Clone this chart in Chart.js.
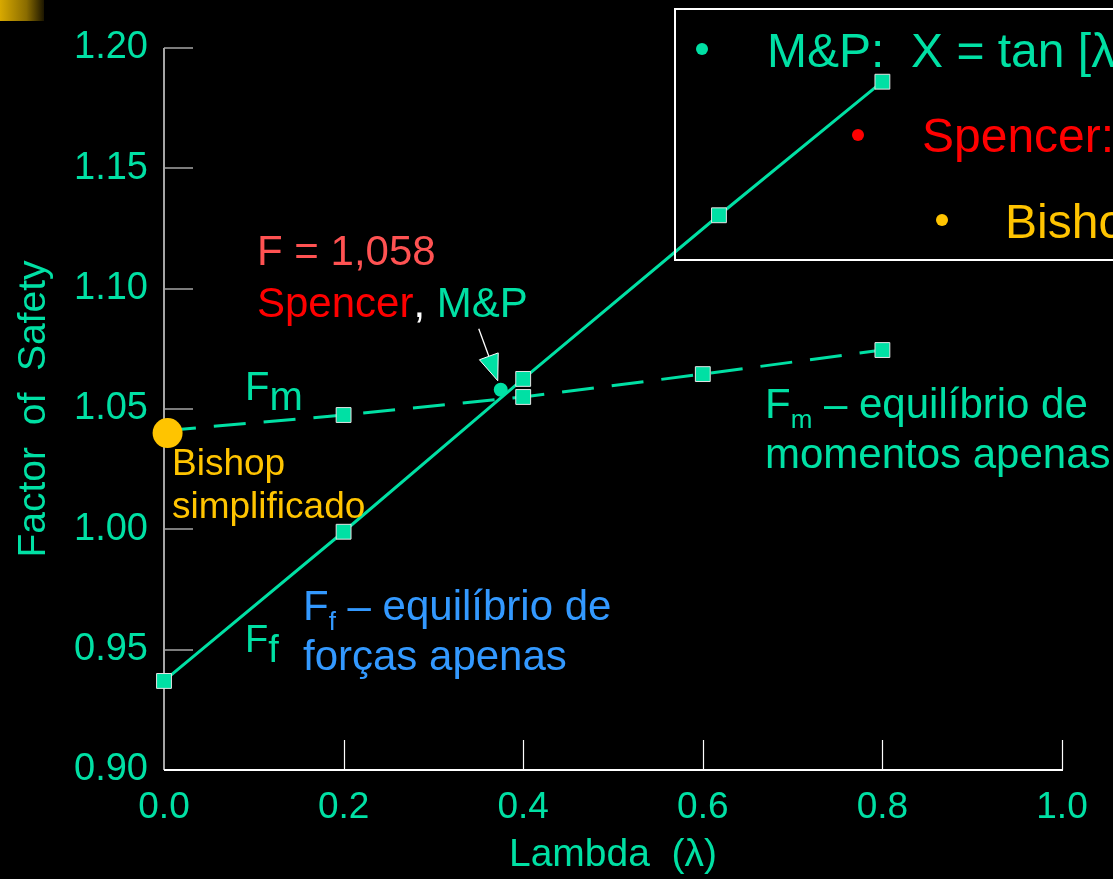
<!DOCTYPE html>
<html>
<head>
<meta charset="utf-8">
<script src="https://cdn.jsdelivr.net/npm/chart.js@4.4.1/dist/chart.umd.min.js"></script>
<style>
  html, body { margin: 0; padding: 0; background: #000; overflow: hidden; }
  canvas { display: block; }
</style>
</head>
<body>
<canvas id="fsChart" width="1113" height="879"></canvas>
<script>
// Factor of safety vs. lambda: force-only and moment-only equilibrium curves
const lambdaForce  = [0.0, 0.2, 0.4, 0.618, 0.8];
const forceFS      = [0.937, 0.999, 1.0625, 1.1305, 1.186];
const lambdaMoment = [0.0, 0.2, 0.4, 0.6, 0.8];
const momentFS     = [1.041, 1.0475, 1.055, 1.0645, 1.0745];
const bishopLambda = [0.004];
const bishopFS     = [1.040];
const spencerLambda = [0.375];
const spencerFS     = [1.058];
const xTicks = [0.0, 0.2, 0.4, 0.6, 0.8, 1.0];
const yTicks = [0.90, 0.95, 1.00, 1.05, 1.10, 1.15, 1.20];

const TEAL = '#00E0A4';
const RED = '#FF0000';
const SOFT_RED = '#FF5252';
const YELLOW = '#FFC400';
const BLUE = '#3399FF';
const FONT = '"Liberation Sans", Arial, Helvetica, sans-serif';

const pts = (xs, ys) => xs.map((v, i) => ({ x: v, y: ys[i] }));

// draw a row of text pieces, each with its own colour, size and vertical shift
function drawRuns(ctx, x, y, runs) {
  let cx = x;
  runs.forEach(r => {
    ctx.font = r.size + 'px ' + FONT;
    ctx.fillStyle = r.color;
    ctx.fillText(r.text, cx, y + (r.dy || 0));
    cx += ctx.measureText(r.text).width;
  });
}

const decor = {
  id: 'decor',
  beforeDraw(chart) {
    const { ctx } = chart;
    ctx.save();
    ctx.fillStyle = '#000';
    ctx.fillRect(0, 0, chart.width, chart.height);
    const g = ctx.createLinearGradient(0, 0, 44, 0);
    g.addColorStop(0, '#D8A900');
    g.addColorStop(0.6, '#8a6c00');
    g.addColorStop(1, '#1c1600');
    ctx.fillStyle = g;
    ctx.fillRect(0, 0, 44, 21);
    ctx.restore();
  },
  beforeDatasetsDraw(chart) {
    const { ctx, chartArea: a, scales: { x, y } } = chart;
    const seg = (x1, y1, x2, y2) => { ctx.beginPath(); ctx.moveTo(x1, y1); ctx.lineTo(x2, y2); ctx.stroke(); };
    ctx.save();
    // vertical axis with inward ticks
    ctx.strokeStyle = '#a6a6a6';
    ctx.lineWidth = 2;
    seg(a.left, a.top, a.left, a.bottom);
    ctx.lineWidth = 1.5;
    yTicks.filter(v => v > y.min).forEach(v => {
      const py = Math.round(y.getPixelForValue(v));
      seg(a.left, py, a.left + 29, py);
    });
    // horizontal axis with upward ticks
    ctx.strokeStyle = '#ffffff';
    ctx.lineWidth = 2;
    seg(a.left, a.bottom, a.right + 1, a.bottom);
    ctx.lineWidth = 1.2;
    xTicks.filter(v => v > x.min).forEach(v => {
      const px = Math.round(x.getPixelForValue(v)) + 0.5;
      seg(px, a.bottom, px, a.bottom - 30);
    });
    ctx.restore();
  },
  afterDraw(chart) {
    const { ctx, scales: { x, y } } = chart;
    ctx.save();
    ctx.textBaseline = 'alphabetic';
    ctx.textAlign = 'left';

    // legend box
    ctx.strokeStyle = '#ffffff';
    ctx.lineWidth = 2;
    ctx.strokeRect(675, 9, 460, 251);
    const dot = (cx, cy, c) => { ctx.fillStyle = c; ctx.beginPath(); ctx.arc(cx, cy, 6, 0, Math.PI * 2); ctx.fill(); };
    dot(702, 49, TEAL);
    dot(858, 135, RED);
    dot(942, 220, YELLOW);
    drawRuns(ctx, 767, 67, [{ text: 'M&P:  X = tan [λ]', color: TEAL, size: 48 }]);
    drawRuns(ctx, 922, 152, [{ text: 'Spencer:', color: RED, size: 48 }]);
    drawRuns(ctx, 1005, 238, [{ text: 'Bishop', color: YELLOW, size: 48 }]);

    // intersection callout
    drawRuns(ctx, 257, 265, [{ text: 'F = 1,058', color: SOFT_RED, size: 42 }]);
    drawRuns(ctx, 257, 317, [
      { text: 'Spencer', color: RED, size: 42 },
      { text: ',', color: '#ffffff', size: 42 },
      { text: ' M&P', color: TEAL, size: 42 }
    ]);

    // arrow towards the Spencer / M&P point
    const px = x.getPixelForValue(spencerLambda[0]);
    const py = y.getPixelForValue(spencerFS[0]);
    const tip = { x: px - 3, y: py - 9 };
    const tail = { x: px - 22, y: py - 61 };
    const ang = Math.atan2(tip.y - tail.y, tip.x - tail.x);
    const hl = 26, hw = 10;
    const bx = tip.x - hl * Math.cos(ang), by = tip.y - hl * Math.sin(ang);
    ctx.strokeStyle = '#ffffff';
    ctx.lineWidth = 1.3;
    ctx.beginPath(); ctx.moveTo(tail.x, tail.y); ctx.lineTo(bx, by); ctx.stroke();
    ctx.beginPath();
    ctx.moveTo(tip.x, tip.y);
    ctx.lineTo(bx + hw * Math.sin(ang), by - hw * Math.cos(ang));
    ctx.lineTo(bx - hw * Math.sin(ang), by + hw * Math.cos(ang));
    ctx.closePath();
    ctx.fillStyle = TEAL;
    ctx.fill();
    ctx.lineWidth = 1;
    ctx.stroke();

    // curve names
    drawRuns(ctx, 245, 400, [
      { text: 'F', color: TEAL, size: 40 },
      { text: 'm', color: TEAL, size: 40, dy: 10 }
    ]);
    drawRuns(ctx, 245, 652, [
      { text: 'F', color: TEAL, size: 38 },
      { text: 'f', color: TEAL, size: 38, dy: 10 }
    ]);

    // Bishop label
    drawRuns(ctx, 172, 475, [{ text: 'Bishop', color: YELLOW, size: 37 }]);
    drawRuns(ctx, 172, 518, [{ text: 'simplificado', color: YELLOW, size: 37 }]);

    // moment equilibrium description
    drawRuns(ctx, 765, 418, [
      { text: 'F', color: TEAL, size: 42 },
      { text: 'm', color: TEAL, size: 26, dy: 10 },
      { text: ' – equilíbrio de', color: TEAL, size: 42 }
    ]);
    drawRuns(ctx, 765, 468, [{ text: 'momentos apenas', color: TEAL, size: 42 }]);

    // force equilibrium description
    drawRuns(ctx, 303, 620, [
      { text: 'F', color: BLUE, size: 42 },
      { text: 'f', color: BLUE, size: 26, dy: 10 },
      { text: ' – equilíbrio de', color: BLUE, size: 42 }
    ]);
    drawRuns(ctx, 303, 670, [{ text: 'forças apenas', color: BLUE, size: 42 }]);
    ctx.restore();
  }
};

new Chart(document.getElementById('fsChart'), {
  type: 'scatter',
  data: {
    datasets: [
      {
        label: 'Bishop simplificado',
        data: pts(bishopLambda, bishopFS),
        pointStyle: 'circle',
        pointRadius: 15,
        pointBackgroundColor: YELLOW,
        pointBorderWidth: 0,
        clip: false
      },
      {
        label: 'Spencer, M&P',
        data: pts(spencerLambda, spencerFS),
        pointStyle: 'circle',
        pointRadius: 7,
        pointBackgroundColor: TEAL,
        pointBorderWidth: 0,
        clip: false
      },
      {
        label: 'Fm',
        data: pts(lambdaMoment, momentFS),
        showLine: true,
        borderColor: TEAL,
        borderWidth: 3,
        borderDash: [32, 18],
        pointStyle: 'rect',
        pointRadius: lambdaMoment.map((v, i) => (i === 0 ? 0 : 10.5)),
        pointBackgroundColor: TEAL,
        pointBorderColor: '#e4e4e4',
        pointBorderWidth: 1,
        clip: false
      },
      {
        label: 'Ff',
        data: pts(lambdaForce, forceFS),
        showLine: true,
        borderColor: TEAL,
        borderWidth: 3,
        pointStyle: 'rect',
        pointRadius: 10.5,
        pointBackgroundColor: TEAL,
        pointBorderColor: '#e4e4e4',
        pointBorderWidth: 1,
        clip: false
      }
    ]
  },
  options: {
    responsive: false,
    animation: false,
    devicePixelRatio: 1,
    layout: { padding: { top: 48, right: 51, left: 0, bottom: 0 } },
    plugins: { legend: { display: false }, tooltip: { enabled: false } },
    scales: {
      x: {
        type: 'linear',
        min: 0,
        max: 1,
        afterBuildTicks: s => { s.ticks = xTicks.map(v => ({ value: v })); },
        afterFit: s => { s.height = 109; },
        grid: { display: false, drawTicks: false },
        border: { display: false },
        ticks: {
          color: TEAL,
          font: { family: FONT, size: 37 },
          padding: 16,
          maxRotation: 0,
          autoSkip: false,
          callback: v => Number(v).toFixed(1)
        },
        title: {
          display: true,
          text: 'Lambda  (λ)',
          color: TEAL,
          font: { family: FONT, size: 39 },
          padding: { top: 0, bottom: 0 }
        }
      },
      y: {
        type: 'linear',
        min: 0.9,
        max: 1.2,
        afterBuildTicks: s => { s.ticks = yTicks.map(v => ({ value: v })); },
        afterFit: s => { s.width = 164; },
        grid: { display: false, drawTicks: false },
        border: { display: false },
        ticks: {
          color: TEAL,
          font: { family: FONT, size: 38 },
          padding: 16,
          autoSkip: false,
          callback: v => Number(v).toFixed(2)
        },
        title: {
          display: true,
          text: 'Factor  of  Safety',
          color: TEAL,
          font: { family: FONT, size: 39 },
          padding: { top: 11, bottom: 0 }
        }
      }
    }
  },
  plugins: [decor]
});
</script>
</body>
</html>
